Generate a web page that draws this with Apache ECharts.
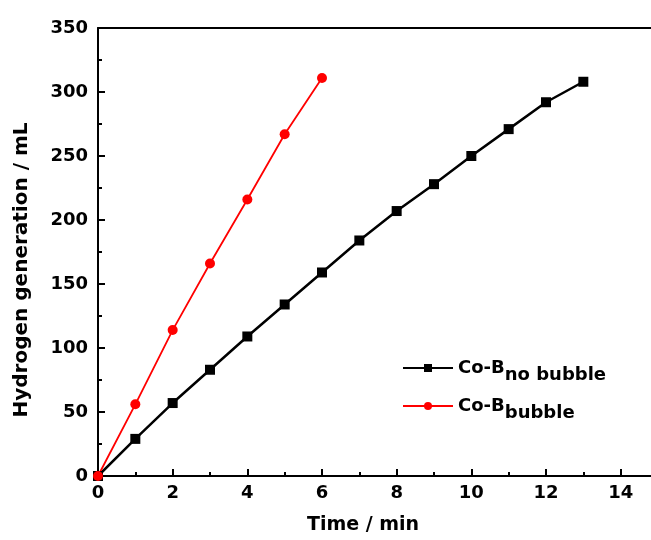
<!DOCTYPE html>
<html><head><meta charset="utf-8">
<script src="https://cdn.jsdelivr.net/npm/echarts@6/dist/echarts.min.js"></script>
<style>html,body{margin:0;padding:0;background:#fff}#c{width:651px;height:540px}</style>
</head><body><div id="c"></div>
<script>
var timeMin = [0,1,2,3,4,5,6,7,8,9,10,11,12,13];
var noBubble = [0,29,57,83,109,134,159,184,207,228,250,271,292,308];
var bubbleTime = [0,1,2,3,4,5,6];
var bubble = [0,56,114,166,216,267,311];
var xTicks = [0,2,4,6,8,10,12,14];
var yTicks = [0,50,100,150,200,250,300,350];
var yTitle = 'Hydrogen generation / mL';
var xTitle = 'Time / min';

var font = '"DejaVu Sans", sans-serif';
function pairs(xs, ys){ return xs.map(function(x,i){ return [x, ys[i]]; }); }

var chart = echarts.init(document.getElementById('c'));
chart.setOption({
  animation:false,
  backgroundColor:'#fff',
  grid:{left:98, top:28, width:560, bottom:64, containLabel:false, outerBoundsMode:'none'},
  graphic:[{
    type:'text', x:22, y:270, rotation:Math.PI/2,
    style:{text:yTitle, font:'bold 20px "DejaVu Sans", sans-serif', fill:'#000',
      align:'center', verticalAlign:'middle'}
  }],
  legend:{
    orient:'vertical', left:397, top:354, itemWidth:50, itemHeight:10, itemGap:13,
    textStyle:{fontFamily:font, fontSize:18, fontWeight:'bold', color:'#000',
      rich:{
        a:{fontFamily:font, fontSize:18, fontWeight:'bold', color:'#000'},
        b:{fontFamily:font, fontSize:18, fontWeight:'bold', color:'#000', padding:[14,0,0,0]}
      }},
    formatter:function(n){ return n==='noBubble' ? '{a|Co-B}{b|no bubble}' : '{a|Co-B}{b|bubble}'; },
    data:['noBubble','bubble']
  },
  xAxis:[{
    type:'value', min:0, max:15, interval:2,
    name:xTitle, nameLocation:'middle', nameGap:40,
    nameTextStyle:{fontFamily:font, fontSize:19, fontWeight:'bold', color:'#000', padding:[0,30,0,0]},
    axisLine:{lineStyle:{color:'#000', width:2}},
    axisTick:{inside:true, length:7, lineStyle:{color:'#000', width:2}},
    minorTick:{show:true, splitNumber:2, length:4, lineStyle:{color:'#000', width:2}},
    axisLabel:{fontFamily:font, fontSize:18, fontWeight:'bold', color:'#000', margin:8,
      formatter:function(v){ return xTicks.indexOf(v)>=0 ? String(v) : ''; }},
    splitLine:{show:false}
  },{
    type:'value', position:'top', min:0, max:15,
    axisLine:{show:true, onZero:false, lineStyle:{color:'#000', width:2}},
    axisTick:{show:false}, axisLabel:{show:false}, splitLine:{show:false}
  }],
  yAxis:{
    type:'value', min:0, max:350, interval:50,
    axisLine:{show:true, lineStyle:{color:'#000', width:2}},
    axisTick:{inside:true, length:7, lineStyle:{color:'#000', width:2}},
    minorTick:{show:true, splitNumber:2, length:4, lineStyle:{color:'#000', width:2}},
    axisLabel:{fontFamily:font, fontSize:18, fontWeight:'bold', color:'#000', margin:10,
      formatter:function(v){ return yTicks.indexOf(v)>=0 ? String(v) : ''; }},
    splitLine:{show:false}
  },
  series:[{
    name:'noBubble', type:'line', data:pairs(timeMin, noBubble),
    symbol:'rect', symbolSize:10, showAllSymbol:true,
    itemStyle:{color:'#000'}, lineStyle:{color:'#000', width:2.5}
  },{
    name:'bubble', type:'line', data:pairs(bubbleTime, bubble),
    symbol:'circle', symbolSize:10, showAllSymbol:true,
    itemStyle:{color:'#ff0000'}, lineStyle:{color:'#ff0000', width:1.8}
  }]
});
</script></body></html>
